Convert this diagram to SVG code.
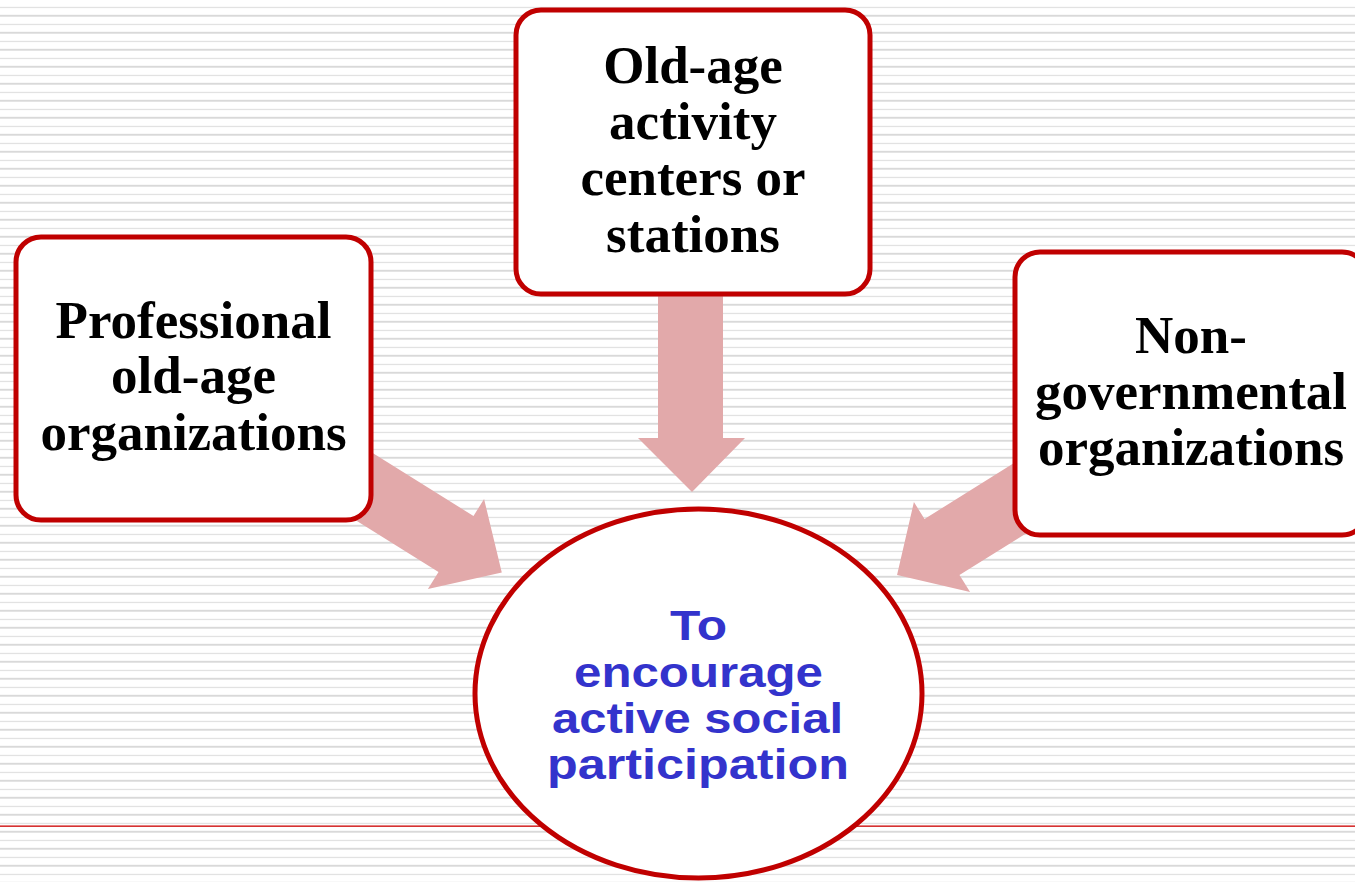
<svg xmlns="http://www.w3.org/2000/svg" width="1355" height="882" viewBox="0 0 1355 882">
<defs>
<pattern id="stripes" patternUnits="userSpaceOnUse" width="20" height="17">
<rect x="0" y="6.8" width="20" height="1.3" fill="#e2e2e2"/>
<rect x="0" y="14.8" width="20" height="1.9" fill="#d9d9d9"/>
</pattern>
</defs>
<style>
.box{fill:#ffffff;stroke:#c00000;stroke-width:5}
.arrow{fill:#e2a9aa}
.lbl{font-family:"Liberation Serif","Times New Roman",serif;font-weight:bold;font-size:53px;fill:#000000;text-anchor:middle}
.goal{font-family:"Liberation Sans",Arial,sans-serif;font-weight:bold;font-size:42px;fill:#3333cc;text-anchor:middle}
</style>
<rect x="0" y="0" width="1355" height="882" fill="#ffffff"/>
<rect x="0" y="0" width="1355" height="882" fill="url(#stripes)"/>
<rect x="0" y="825.5" width="1355" height="1.3" fill="#cc0000"/>
<g id="connectors">
<polygon class="arrow" points="658,290 723,290 723,438 745,438 692,492 638,438 658,438"/>
<polygon class="arrow" transform="translate(456,544) rotate(32)" points="-150,-33 0,-33 0,-53 54,0 0,53 0,33 -150,33"/>
<polygon class="arrow" transform="translate(942,547) rotate(148)" points="-150,-33 0,-33 0,-53 53,0 0,53 0,33 -150,33"/>
</g>
<g id="node-professional">
<rect class="box" x="16" y="237" width="355" height="283" rx="25" ry="25"/>
<text class="lbl" x="193.5" y="338">Professional</text>
<text class="lbl" x="193.5" y="393">old-age</text>
<text class="lbl" x="193.5" y="450">organizations</text>
</g>
<g id="node-centers">
<rect class="box" x="516" y="10" width="354" height="284" rx="25" ry="25"/>
<text class="lbl" x="693" y="83">Old-age</text>
<text class="lbl" x="693" y="139">activity</text>
<text class="lbl" x="693" y="195">centers or</text>
<text class="lbl" x="693" y="252">stations</text>
</g>
<g id="node-ngo">
<rect class="box" x="1015" y="252" width="352" height="283" rx="25" ry="25"/>
<text class="lbl" x="1191" y="353">Non-</text>
<text class="lbl" x="1191" y="409">governmental</text>
<text class="lbl" x="1191" y="465">organizations</text>
</g>
<g id="node-goal">
<ellipse class="box" cx="698.5" cy="693.5" rx="223.5" ry="184.5"/>
<text class="goal" x="698.5" y="640" textLength="57" lengthAdjust="spacingAndGlyphs">To</text>
<text class="goal" x="698.5" y="687" textLength="249" lengthAdjust="spacingAndGlyphs">encourage</text>
<text class="goal" x="697.5" y="733" textLength="291" lengthAdjust="spacingAndGlyphs">active social</text>
<text class="goal" x="698" y="779" textLength="302" lengthAdjust="spacingAndGlyphs">participation</text>
</g>
</svg>
